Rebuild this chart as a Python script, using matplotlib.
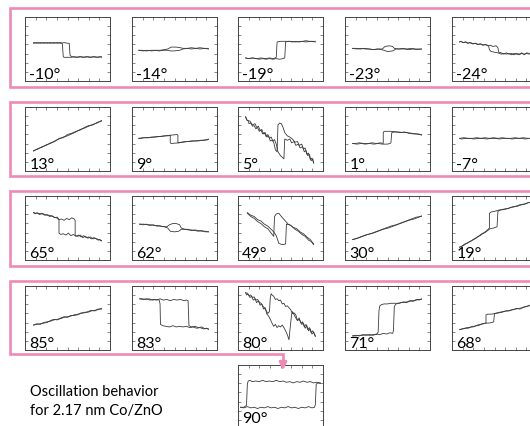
import matplotlib
matplotlib.use('Agg')
import matplotlib.pyplot as plt

plt.rcParams['font.family'] = ['Lato', 'DejaVu Sans']

W, H = 530, 427
PINK = '#ee8ab5'
LINE = '#3a3a3a'

# each loop: two sweeps, points as (field, signal) in normalised panel units
m10_a = [(0.10,0.59),(0.14,0.60),(0.18,0.59),(0.22,0.60),(0.26,0.59),(0.30,0.60),(0.34,0.59),(0.38,0.60),(0.42,0.59),(0.46,0.60),(0.50,0.59),(0.52,0.59),(0.53,0.40),(0.55,0.38),(0.60,0.37),(0.64,0.38),(0.68,0.37),(0.72,0.38),(0.76,0.37),(0.80,0.38),(0.84,0.37),(0.88,0.38),(0.90,0.37)]
m10_b = [(0.90,0.38),(0.86,0.37),(0.82,0.38),(0.78,0.37),(0.74,0.38),(0.70,0.37),(0.66,0.38),(0.62,0.37),(0.58,0.38),(0.54,0.37),(0.50,0.37),(0.46,0.37),(0.45,0.38),(0.44,0.58),(0.42,0.60),(0.38,0.59),(0.34,0.60),(0.30,0.59),(0.26,0.60),(0.22,0.59),(0.18,0.60),(0.14,0.59),(0.10,0.60)]

m14_a = [(0.08,0.48),(0.13,0.47),(0.18,0.48),(0.23,0.47),(0.28,0.48),(0.33,0.48),(0.38,0.49),(0.42,0.50),(0.46,0.53),(0.52,0.53),(0.57,0.52),(0.60,0.51),(0.65,0.51),(0.70,0.52),(0.75,0.51),(0.80,0.52),(0.85,0.51),(0.90,0.51)]
m14_b = [(0.90,0.50),(0.85,0.51),(0.80,0.50),(0.75,0.51),(0.70,0.50),(0.65,0.51),(0.60,0.50),(0.56,0.48),(0.50,0.47),(0.45,0.47),(0.42,0.48),(0.37,0.48),(0.32,0.47),(0.27,0.48),(0.22,0.48),(0.17,0.47),(0.12,0.48),(0.08,0.48)]

m19_a = [(0.09,0.36),(0.13,0.35),(0.17,0.36),(0.21,0.35),(0.25,0.34),(0.29,0.35),(0.33,0.34),(0.37,0.35),(0.41,0.34),(0.45,0.35),(0.49,0.34),(0.53,0.35),(0.55,0.36),(0.56,0.61),(0.60,0.62),(0.64,0.61),(0.68,0.62),(0.72,0.61),(0.76,0.62),(0.80,0.63),(0.84,0.62),(0.88,0.62),(0.91,0.62)]
m19_b = [(0.91,0.61),(0.86,0.62),(0.80,0.61),(0.74,0.62),(0.68,0.61),(0.62,0.62),(0.56,0.62),(0.50,0.62),(0.46,0.61),(0.45,0.37),(0.42,0.35),(0.37,0.36),(0.32,0.35),(0.27,0.36),(0.22,0.35),(0.17,0.36),(0.12,0.35),(0.09,0.36)]

m23_a = [(0.09,0.51),(0.14,0.50),(0.19,0.51),(0.24,0.50),(0.29,0.50),(0.34,0.49),(0.39,0.50),(0.44,0.50),(0.47,0.54),(0.52,0.55),(0.56,0.54),(0.58,0.51),(0.63,0.50),(0.68,0.51),(0.73,0.50),(0.78,0.51),(0.83,0.50),(0.88,0.50),(0.90,0.50)]
m23_b = [(0.90,0.50),(0.85,0.49),(0.80,0.50),(0.75,0.49),(0.70,0.50),(0.65,0.50),(0.60,0.50),(0.56,0.47),(0.50,0.46),(0.46,0.48),(0.43,0.49),(0.38,0.50),(0.33,0.49),(0.28,0.50),(0.23,0.51),(0.18,0.50),(0.13,0.51),(0.09,0.51)]

m24_a = [(0.09,0.61),(0.11,0.62),(0.13,0.60),(0.16,0.61),(0.18,0.59),(0.21,0.60),(0.24,0.58),(0.27,0.59),(0.30,0.57),(0.33,0.58),(0.36,0.56),(0.39,0.57),(0.42,0.55),(0.45,0.56),(0.48,0.54),(0.52,0.55),(0.54,0.52),(0.55,0.45),(0.58,0.44),(0.61,0.42),(0.64,0.44),(0.67,0.42),(0.70,0.43),(0.73,0.41),(0.76,0.43),(0.79,0.42),(0.82,0.44),(0.85,0.41),(0.88,0.44),(0.91,0.43)]
m24_b = [(0.91,0.42),(0.88,0.43),(0.85,0.42),(0.82,0.43),(0.79,0.41),(0.76,0.42),(0.73,0.43),(0.70,0.41),(0.67,0.43),(0.64,0.42),(0.61,0.43),(0.58,0.42),(0.54,0.44),(0.50,0.45),(0.46,0.46),(0.44,0.49),(0.43,0.55),(0.40,0.57),(0.37,0.56),(0.34,0.58),(0.31,0.57),(0.28,0.59),(0.25,0.58),(0.22,0.60),(0.19,0.59),(0.16,0.61),(0.13,0.60),(0.10,0.62),(0.09,0.61)]

p13_a = [(0.10,0.31),(0.15,0.35),(0.20,0.37),(0.25,0.41),(0.30,0.43),(0.35,0.47),(0.40,0.50),(0.45,0.53),(0.50,0.55),(0.55,0.58),(0.60,0.61),(0.65,0.65),(0.70,0.67),(0.75,0.70),(0.80,0.73),(0.85,0.75),(0.90,0.79)]
p13_b = [(0.90,0.78),(0.85,0.76),(0.80,0.72),(0.75,0.71),(0.70,0.68),(0.65,0.64),(0.60,0.62),(0.55,0.59),(0.50,0.57),(0.45,0.52),(0.40,0.51),(0.35,0.46),(0.30,0.44),(0.25,0.40),(0.20,0.38),(0.15,0.34),(0.10,0.32)]

p9_a = [(0.08,0.51),(0.13,0.52),(0.18,0.52),(0.23,0.53),(0.28,0.53),(0.33,0.54),(0.38,0.55),(0.43,0.55),(0.46,0.56),(0.53,0.57),(0.54,0.56),(0.54,0.44),(0.58,0.45),(0.63,0.46),(0.68,0.46),(0.73,0.47),(0.78,0.47),(0.83,0.48),(0.88,0.49),(0.90,0.50)]
p9_b = [(0.90,0.49),(0.85,0.48),(0.80,0.48),(0.75,0.47),(0.70,0.47),(0.65,0.46),(0.60,0.45),(0.55,0.44),(0.46,0.43),(0.45,0.44),(0.45,0.56),(0.40,0.55),(0.35,0.54),(0.30,0.54),(0.25,0.53),(0.20,0.52),(0.15,0.52),(0.10,0.51),(0.08,0.51)]

p5_a = [(0.09,0.85),(0.10,0.80),(0.12,0.78),(0.13,0.74),(0.15,0.75),(0.17,0.70),(0.19,0.71),(0.21,0.66),(0.23,0.68),(0.25,0.62),(0.27,0.64),(0.29,0.58),(0.31,0.60),(0.33,0.54),(0.35,0.57),(0.37,0.51),(0.39,0.53),(0.41,0.47),(0.43,0.49),(0.45,0.42),(0.47,0.30),(0.50,0.24),(0.54,0.19),(0.55,0.50),(0.58,0.48),(0.61,0.50),(0.63,0.44),(0.66,0.46),(0.68,0.40),(0.71,0.42),(0.73,0.36),(0.76,0.38),(0.78,0.30),(0.80,0.32),(0.82,0.24),(0.84,0.26),(0.86,0.16),(0.88,0.19),(0.89,0.12)]
p5_b = [(0.89,0.13),(0.87,0.20),(0.85,0.18),(0.83,0.28),(0.81,0.26),(0.79,0.36),(0.77,0.34),(0.75,0.42),(0.72,0.40),(0.70,0.46),(0.67,0.45),(0.64,0.50),(0.61,0.53),(0.58,0.55),(0.55,0.60),(0.53,0.68),(0.51,0.74),(0.49,0.75),(0.47,0.72),(0.46,0.30),(0.44,0.33),(0.42,0.45),(0.40,0.48),(0.38,0.47),(0.36,0.55),(0.34,0.53),(0.32,0.60),(0.30,0.58),(0.28,0.65),(0.26,0.63),(0.24,0.70),(0.22,0.68),(0.20,0.74),(0.17,0.72),(0.14,0.78),(0.11,0.79),(0.09,0.84)]

p1_a = [(0.09,0.43),(0.14,0.42),(0.19,0.43),(0.24,0.42),(0.29,0.43),(0.34,0.42),(0.39,0.43),(0.44,0.42),(0.50,0.42),(0.53,0.43),(0.54,0.44),(0.55,0.60),(0.58,0.61),(0.63,0.61),(0.68,0.60),(0.73,0.60),(0.78,0.59),(0.83,0.58),(0.88,0.57),(0.90,0.56)]
p1_b = [(0.90,0.57),(0.85,0.58),(0.80,0.58),(0.75,0.59),(0.70,0.61),(0.65,0.60),(0.60,0.61),(0.55,0.62),(0.50,0.62),(0.46,0.62),(0.45,0.60),(0.45,0.43),(0.42,0.44),(0.37,0.43),(0.32,0.44),(0.27,0.43),(0.22,0.43),(0.17,0.44),(0.12,0.43),(0.09,0.43)]

m7_a = [(0.09,0.51),(0.14,0.52),(0.19,0.51),(0.24,0.51),(0.29,0.52),(0.34,0.51),(0.39,0.52),(0.44,0.51),(0.49,0.52),(0.54,0.51),(0.59,0.52),(0.64,0.51),(0.69,0.51),(0.74,0.52),(0.79,0.51),(0.84,0.52),(0.89,0.51),(0.91,0.51)]
m7_b = [(0.91,0.51),(0.86,0.50),(0.81,0.51),(0.76,0.51),(0.71,0.50),(0.66,0.51),(0.61,0.51),(0.56,0.50),(0.51,0.51),(0.46,0.51),(0.41,0.50),(0.36,0.51),(0.31,0.51),(0.26,0.50),(0.21,0.51),(0.16,0.51),(0.11,0.50),(0.09,0.51)]

p65_a = [(0.10,0.74),(0.12,0.72),(0.14,0.74),(0.17,0.71),(0.20,0.73),(0.23,0.70),(0.26,0.71),(0.29,0.68),(0.32,0.69),(0.35,0.66),(0.38,0.67),(0.40,0.63),(0.43,0.64),(0.46,0.62),(0.49,0.65),(0.52,0.63),(0.55,0.66),(0.58,0.64),(0.59,0.62),(0.59,0.38),(0.62,0.37),(0.65,0.39),(0.68,0.35),(0.71,0.37),(0.74,0.34),(0.77,0.36),(0.80,0.33),(0.83,0.34),(0.86,0.31),(0.88,0.32),(0.90,0.30)]
p65_b = [(0.90,0.30),(0.87,0.32),(0.84,0.33),(0.81,0.35),(0.78,0.33),(0.75,0.36),(0.72,0.35),(0.69,0.38),(0.66,0.36),(0.63,0.39),(0.60,0.37),(0.57,0.40),(0.54,0.38),(0.51,0.42),(0.48,0.39),(0.45,0.41),(0.42,0.40),(0.40,0.42),(0.40,0.63),(0.37,0.66),(0.34,0.67),(0.31,0.69),(0.28,0.70),(0.25,0.70),(0.22,0.72),(0.19,0.72),(0.16,0.73),(0.13,0.73),(0.10,0.74)]

p62_a = [(0.09,0.56),(0.13,0.55),(0.17,0.56),(0.21,0.54),(0.25,0.55),(0.29,0.53),(0.33,0.53),(0.37,0.52),(0.41,0.52),(0.44,0.55),(0.48,0.57),(0.52,0.57),(0.56,0.55),(0.58,0.50),(0.62,0.48),(0.66,0.48),(0.70,0.46),(0.74,0.47),(0.78,0.46),(0.82,0.45),(0.86,0.45),(0.90,0.44)]
p62_b = [(0.90,0.44),(0.86,0.44),(0.82,0.46),(0.78,0.45),(0.74,0.46),(0.70,0.47),(0.66,0.47),(0.62,0.48),(0.58,0.48),(0.55,0.45),(0.50,0.44),(0.45,0.45),(0.42,0.50),(0.38,0.52),(0.34,0.53),(0.30,0.54),(0.26,0.54),(0.22,0.55),(0.18,0.55),(0.14,0.56),(0.10,0.56),(0.09,0.56)]

p49_a = [(0.11,0.74),(0.15,0.70),(0.19,0.68),(0.23,0.63),(0.27,0.61),(0.31,0.56),(0.35,0.53),(0.39,0.48),(0.42,0.44),(0.45,0.38),(0.48,0.26),(0.52,0.24),(0.56,0.25),(0.57,0.56),(0.61,0.55),(0.65,0.51),(0.69,0.49),(0.73,0.44),(0.77,0.41),(0.81,0.36),(0.85,0.32),(0.89,0.25)]
p49_b = [(0.89,0.24),(0.86,0.29),(0.83,0.31),(0.79,0.37),(0.75,0.40),(0.71,0.45),(0.67,0.48),(0.63,0.53),(0.59,0.56),(0.55,0.62),(0.51,0.68),(0.48,0.73),(0.45,0.72),(0.43,0.68),(0.42,0.37),(0.39,0.42),(0.35,0.49),(0.31,0.52),(0.27,0.57),(0.23,0.60),(0.19,0.65),(0.15,0.68),(0.11,0.73)]

p30_a = [(0.09,0.32),(0.15,0.34),(0.21,0.37),(0.27,0.40),(0.33,0.42),(0.39,0.45),(0.45,0.48),(0.51,0.50),(0.57,0.53),(0.63,0.56),(0.69,0.59),(0.75,0.62),(0.81,0.64),(0.87,0.67),(0.90,0.69)]
p30_b = [(0.90,0.68),(0.84,0.67),(0.78,0.64),(0.72,0.61),(0.66,0.58),(0.60,0.55),(0.54,0.53),(0.48,0.50),(0.42,0.47),(0.36,0.44),(0.30,0.41),(0.24,0.39),(0.18,0.36),(0.12,0.33),(0.09,0.32)]

p19_a = [(0.09,0.20),(0.12,0.22),(0.15,0.25),(0.18,0.26),(0.21,0.29),(0.24,0.31),(0.27,0.33),(0.30,0.36),(0.33,0.38),(0.36,0.41),(0.39,0.43),(0.42,0.46),(0.45,0.49),(0.49,0.50),(0.53,0.52),(0.54,0.76),(0.57,0.78),(0.61,0.79),(0.65,0.80),(0.69,0.82),(0.73,0.83),(0.77,0.84),(0.81,0.86),(0.85,0.87),(0.88,0.89),(0.91,0.90)]
p19_b = [(0.91,0.90),(0.87,0.88),(0.83,0.87),(0.79,0.86),(0.75,0.84),(0.71,0.83),(0.67,0.81),(0.63,0.80),(0.59,0.79),(0.55,0.78),(0.50,0.76),(0.46,0.75),(0.44,0.73),(0.44,0.50),(0.41,0.46),(0.38,0.43),(0.35,0.41),(0.32,0.38),(0.29,0.35),(0.26,0.33),(0.23,0.30),(0.20,0.28),(0.17,0.26),(0.14,0.23),(0.11,0.21),(0.09,0.20)]

p85_a = [(0.10,0.39),(0.14,0.41),(0.18,0.40),(0.22,0.43),(0.26,0.44),(0.30,0.45),(0.34,0.47),(0.38,0.48),(0.42,0.49),(0.46,0.51),(0.50,0.52),(0.54,0.53),(0.58,0.55),(0.62,0.56),(0.66,0.57),(0.70,0.59),(0.74,0.59),(0.78,0.61),(0.82,0.62),(0.86,0.63),(0.90,0.65)]
p85_b = [(0.90,0.64),(0.86,0.64),(0.82,0.61),(0.78,0.62),(0.74,0.60),(0.70,0.58),(0.66,0.58),(0.62,0.55),(0.58,0.54),(0.54,0.54),(0.50,0.51),(0.46,0.52),(0.42,0.50),(0.38,0.47),(0.34,0.48),(0.30,0.46),(0.26,0.43),(0.22,0.42),(0.18,0.41),(0.14,0.40),(0.10,0.39)]

p83_a = [(0.09,0.80),(0.13,0.79),(0.17,0.80),(0.21,0.78),(0.25,0.79),(0.29,0.78),(0.33,0.80),(0.37,0.78),(0.41,0.79),(0.45,0.77),(0.49,0.79),(0.53,0.78),(0.57,0.79),(0.61,0.77),(0.64,0.78),(0.66,0.77),(0.67,0.38),(0.70,0.36),(0.74,0.37),(0.78,0.35),(0.82,0.36),(0.86,0.33),(0.88,0.34),(0.90,0.32)]
p83_b = [(0.90,0.33),(0.87,0.34),(0.84,0.33),(0.80,0.35),(0.76,0.34),(0.72,0.36),(0.68,0.35),(0.64,0.37),(0.60,0.36),(0.56,0.37),(0.52,0.36),(0.48,0.38),(0.44,0.36),(0.40,0.37),(0.36,0.38),(0.335,0.40),(0.33,0.72),(0.32,0.78),(0.28,0.79),(0.24,0.78),(0.20,0.80),(0.16,0.79),(0.12,0.80),(0.09,0.80)]

p80_a = [(0.09,0.90),(0.10,0.86),(0.12,0.87),(0.14,0.82),(0.16,0.84),(0.18,0.78),(0.20,0.80),(0.22,0.74),(0.24,0.77),(0.26,0.70),(0.28,0.72),(0.30,0.64),(0.32,0.66),(0.34,0.56),(0.36,0.53),(0.38,0.48),(0.40,0.42),(0.42,0.37),(0.44,0.40),(0.46,0.35),(0.48,0.38),(0.50,0.36),(0.52,0.39),(0.54,0.35),(0.56,0.30),(0.58,0.24),(0.60,0.16),(0.61,0.30),(0.63,0.55),(0.64,0.60),(0.66,0.55),(0.68,0.50),(0.70,0.46),(0.72,0.50),(0.74,0.42),(0.76,0.44),(0.78,0.36),(0.80,0.40),(0.82,0.32),(0.84,0.35),(0.86,0.27),(0.88,0.30),(0.91,0.21)]
p80_b = [(0.91,0.22),(0.89,0.28),(0.87,0.25),(0.85,0.33),(0.83,0.30),(0.81,0.38),(0.79,0.34),(0.77,0.42),(0.75,0.40),(0.72,0.48),(0.70,0.46),(0.68,0.55),(0.66,0.58),(0.64,0.57),(0.62,0.63),(0.60,0.66),(0.58,0.69),(0.56,0.68),(0.54,0.73),(0.52,0.72),(0.50,0.78),(0.48,0.77),(0.46,0.80),(0.44,0.79),(0.42,0.84),(0.40,0.86),(0.39,0.88),(0.38,0.82),(0.37,0.60),(0.35,0.57),(0.33,0.62),(0.31,0.66),(0.29,0.69),(0.27,0.73),(0.25,0.75),(0.23,0.79),(0.21,0.78),(0.19,0.83),(0.17,0.82),(0.15,0.86),(0.13,0.85),(0.11,0.89),(0.09,0.89)]

p71_a = [(0.09,0.22),(0.13,0.23),(0.17,0.22),(0.21,0.24),(0.25,0.23),(0.29,0.24),(0.33,0.23),(0.37,0.25),(0.41,0.24),(0.45,0.26),(0.49,0.25),(0.53,0.27),(0.56,0.26),(0.57,0.30),(0.58,0.68),(0.60,0.72),(0.64,0.73),(0.68,0.75),(0.72,0.74),(0.76,0.77),(0.80,0.76),(0.84,0.79),(0.87,0.78),(0.90,0.80)]
p71_b = [(0.90,0.79),(0.86,0.79),(0.82,0.77),(0.78,0.77),(0.74,0.75),(0.70,0.75),(0.66,0.74),(0.62,0.73),(0.58,0.73),(0.54,0.73),(0.50,0.72),(0.46,0.72),(0.43,0.71),(0.41,0.69),(0.40,0.62),(0.39,0.28),(0.37,0.24),(0.33,0.24),(0.29,0.23),(0.25,0.24),(0.21,0.23),(0.17,0.23),(0.13,0.22),(0.09,0.22)]

p68_a = [(0.09,0.32),(0.12,0.33),(0.15,0.34),(0.18,0.35),(0.21,0.35),(0.24,0.37),(0.27,0.37),(0.30,0.39),(0.33,0.40),(0.36,0.41),(0.39,0.42),(0.43,0.42),(0.47,0.43),(0.49,0.44),(0.50,0.57),(0.53,0.58),(0.56,0.59),(0.60,0.60),(0.64,0.61),(0.68,0.62),(0.72,0.63),(0.76,0.65),(0.80,0.64),(0.84,0.67),(0.88,0.68),(0.91,0.70)]
p68_b = [(0.91,0.69),(0.87,0.68),(0.83,0.66),(0.79,0.65),(0.75,0.64),(0.71,0.63),(0.67,0.61),(0.63,0.61),(0.59,0.59),(0.55,0.58),(0.51,0.57),(0.46,0.56),(0.42,0.56),(0.40,0.55),(0.40,0.42),(0.37,0.41),(0.34,0.40),(0.31,0.38),(0.28,0.38),(0.25,0.36),(0.22,0.36),(0.19,0.34),(0.16,0.34),(0.13,0.33),(0.09,0.32)]

p90_a = [(0.03,0.34),(0.07,0.33),(0.11,0.35),(0.15,0.33),(0.19,0.34),(0.23,0.32),(0.27,0.34),(0.31,0.33),(0.35,0.35),(0.39,0.33),(0.43,0.34),(0.47,0.32),(0.51,0.34),(0.55,0.33),(0.59,0.35),(0.63,0.33),(0.67,0.34),(0.71,0.32),(0.75,0.34),(0.79,0.33),(0.83,0.35),(0.87,0.33),(0.90,0.34),(0.91,0.38),(0.92,0.70),(0.94,0.72),(0.97,0.71)]
p90_b = [(0.97,0.72),(0.93,0.73),(0.89,0.72),(0.85,0.74),(0.81,0.73),(0.77,0.75),(0.73,0.73),(0.69,0.74),(0.65,0.72),(0.61,0.74),(0.57,0.73),(0.53,0.75),(0.49,0.74),(0.45,0.76),(0.41,0.74),(0.37,0.75),(0.33,0.74),(0.29,0.76),(0.25,0.74),(0.21,0.75),(0.17,0.74),(0.14,0.76),(0.12,0.75),(0.11,0.70),(0.10,0.37),(0.07,0.34),(0.03,0.34)]

row1 = ['-10°', '-14°', '-19°', '-23°', '-24°']
row2 = ['13°', '9°', '5°', '1°', '-7°']
row3 = ['65°', '62°', '49°', '30°', '19°']
row4 = ['85°', '83°', '80°', '71°', '68°']
loops = [[(m10_a, m10_b), (m14_a, m14_b), (m19_a, m19_b), (m23_a, m23_b), (m24_a, m24_b)],
         [(p13_a, p13_b), (p9_a, p9_b), (p5_a, p5_b), (p1_a, p1_b), (m7_a, m7_b)],
         [(p65_a, p65_b), (p62_a, p62_b), (p49_a, p49_b), (p30_a, p30_b), (p19_a, p19_b)],
         [(p85_a, p85_b), (p83_a, p83_b), (p80_a, p80_b), (p71_a, p71_b), (p68_a, p68_b)]]

col_left = [25, 132, 238, 345, 452]
row_top = [18, 108, 197, 287]
frames = [(9, 88), (103, 177), (192, 267), (282, 355)]

fig = plt.figure(figsize=(W / 100, H / 100), dpi=100)


def panel(left, top, label, branches, w=85, h=64, label_y=0.0):
    ax = fig.add_axes([left / W, 1 - (top + h) / H, w / W, h / H])
    for br in branches:
        ax.plot([p[0] for p in br], [p[1] for p in br], color=LINE, lw=0.6)
    ax.set_xlim(0, 1)
    ax.set_ylim(0, 1)
    ax.set_xticks([i / 8 for i in range(1, 8)])
    ax.set_yticks([i / 7 for i in range(1, 7)])
    ax.tick_params(direction='in', length=2, width=0.5, color='#555555',
                   top=True, right=True, labelbottom=False, labelleft=False)
    for s in ax.spines.values():
        s.set_linewidth(0.7)
        s.set_color('#444444')
    ax.text(0.05, label_y, label, transform=ax.transAxes, fontsize=11.5,
            ha='left', va='bottom', color='black')
    return ax


for r, labels in enumerate([row1, row2, row3, row4]):
    for c, lab in enumerate(labels):
        panel(col_left[c], row_top[r], lab, loops[r][c])

panel(238, 366, '90°', (p90_a, p90_b), label_y=0.07)

# pink frames and arrow drawn in pixel space on top
ov = fig.add_axes([0, 0, 1, 1], zorder=10)
ov.set_xlim(0, W)
ov.set_ylim(H, 0)
ov.axis('off')
ov.patch.set_alpha(0)
for top, bot in frames[:3]:
    ov.plot([560, 10, 10, 560], [top, top, bot, bot], color=PINK, lw=1.9,
            solid_joinstyle='miter')
ov.plot([560, 10, 10, 283, 283], [282, 282, 355, 355, 362], color=PINK, lw=1.9,
        solid_joinstyle='miter')
ov.annotate('', xy=(283, 374), xytext=(283, 360),
            arrowprops=dict(arrowstyle='-|>', color=PINK, lw=1.9, mutation_scale=11))

ov.text(30, 392, 'Oscillation behavior', fontsize=10.5, va='center', ha='left')
ov.text(30, 411, 'for 2.17 nm Co/ZnO', fontsize=10.5, va='center', ha='left')

fig.savefig('out.png', dpi=100)
